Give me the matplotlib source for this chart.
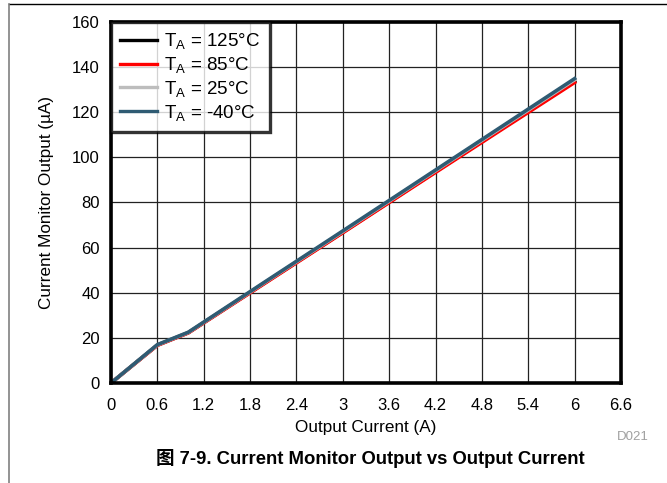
import matplotlib
matplotlib.use("Agg")
import matplotlib.pyplot as plt
from matplotlib.lines import Line2D

plt.rcParams['font.family'] = ['Liberation Sans', 'Noto Sans CJK SC', 'DejaVu Sans']
plt.rcParams['mathtext.default'] = 'regular'

# Output current (A)
current = [0, 0.6, 1.0, 2.0, 3.0, 4.0, 5.0, 6.0]
# Current monitor output (uA) per ambient temperature
imon_125 = [0, 16.8, 22.3, 44.6, 66.8, 89.2, 111.5, 133.6]
imon_85 = [0, 16.7, 22.2, 44.4, 66.6, 88.9, 111.1, 133.2]
imon_25 = [0, 16.9, 22.4, 44.8, 67.1, 89.6, 112.0, 134.4]
imon_m40 = [0, 17.0, 22.5, 45.0, 67.4, 89.9, 112.4, 134.9]

labels = [r'T$_{A}$ = 125°C', r'T$_{A}$ = 85°C', r'T$_{A}$ = 25°C', r'T$_{A}$ = -40°C']
colors = ['#000000', '#ff0000', '#bdbdbd', '#2f5b73']
series = [imon_125, imon_85, imon_25, imon_m40]

xticks = [0, 0.6, 1.2, 1.8, 2.4, 3, 3.6, 4.2, 4.8, 5.4, 6, 6.6]
xticklabels = ['0', '0.6', '1.2', '1.8', '2.4', '3', '3.6', '4.2', '4.8', '5.4', '6', '6.6']
yticks = [0, 20, 40, 60, 80, 100, 120, 140, 160]

fig = plt.figure(figsize=(6.67, 4.83), dpi=100)
ax = fig.add_axes([0.1664, 0.207, 0.7646, 0.7475])

for y, c, lab in zip(series, colors, labels):
    ax.plot(current, y, color=c, lw=2.6, label=lab, solid_joinstyle='round')

ax.set_xlim(0, 6.6)
ax.set_ylim(0, 160)
ax.set_xticks(xticks)
ax.set_xticklabels(xticklabels)
ax.set_yticks(yticks)
ax.tick_params(axis='both', length=0, labelsize=12)
ax.tick_params(axis='x', pad=11)
ax.tick_params(axis='y', pad=8)
ax.grid(True, color='#222222', lw=0.9)
ax.set_axisbelow(True)
for s in ax.spines.values():
    s.set_linewidth(2.6)
    s.set_color('black')

ax.set_xlabel('Output Current (A)', fontsize=12.3, labelpad=5)
ax.set_ylabel('Current Monitor Output (µA)', fontsize=12.3, labelpad=13)

leg = ax.legend(loc='upper left', fontsize=13.5, frameon=True, fancybox=False,
                borderaxespad=0.0, handlelength=1.95, labelspacing=0.2,
                handletextpad=0.4, borderpad=0.5)
leg.get_frame().set_edgecolor('black')
leg.get_frame().set_linewidth(2.4)
for h in leg.get_lines():
    h.set_linewidth(2.4)

fig.text(0.948, 0.095, 'D021', fontsize=9.5, color='#a0a0a0', ha='center', va='center')
fig.text(0.555, 0.05, '图 7-9. Current Monitor Output vs Output Current',
         fontsize=13.3, fontweight='bold', ha='center', va='center')

# page frame lines
fig.add_artist(Line2D([9 / 667, 1], [1 - 4 / 483, 1 - 4 / 483], color='black', lw=1.0,
                      transform=fig.transFigure))
fig.add_artist(Line2D([9 / 667, 9 / 667], [0, 1 - 4 / 483], color='#808080', lw=1.2,
                      transform=fig.transFigure))

fig.savefig('out.png', dpi=100)
